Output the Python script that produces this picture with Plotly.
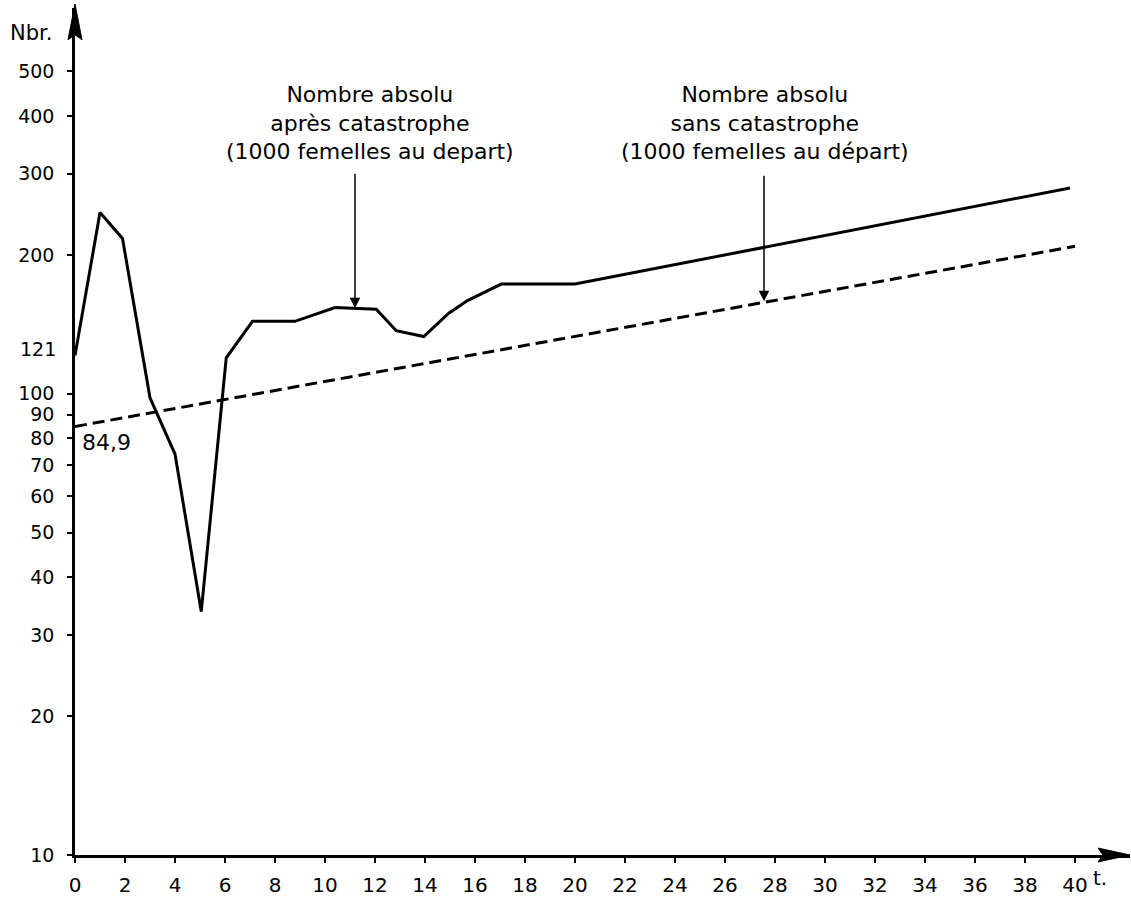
import math
import plotly.graph_objects as go

# ---- data ----
t_after = [0, 1, 1.9, 3, 4, 5.05, 6.05, 7.1, 8.8, 10.4, 12.05, 12.85, 13.95, 14.95, 15.7, 17.05, 20, 39.8]
n_after = [121, 247, 217, 98, 74, 33.7, 119.6, 143.5, 143.5, 153.8, 152.5, 137, 133, 149.5, 159.2, 172.9, 172.9, 279.3]

t_without = [0, 40]
n_without = [84.9, 208.7]

y_tickvals = [10, 20, 30, 40, 50, 60, 70, 80, 90, 100, 200, 300, 400, 500]
y_ticktext = ["10", "20", "30", "40", "50", "60", "70", "80", "90", "100", "200", "300", "400", "500"]
x_tickvals = list(range(0, 41, 2))
x_ticktext = [str(v) for v in x_tickvals]

label_after = "Nombre absolu<br>après catastrophe<br>(1000 femelles au depart)"
label_without = "Nombre absolu<br>sans catastrophe<br>(1000 femelles au départ)"

FONT = "DejaVu Sans"
INK = "black"

fig = go.Figure()
fig.add_trace(go.Scatter(x=t_without, y=n_without, mode="lines",
                         line=dict(color=INK, width=3, dash="12px,6px"),
                         showlegend=False))
fig.add_trace(go.Scatter(x=t_after, y=n_after, mode="lines",
                         line=dict(color=INK, width=3),
                         showlegend=False))

W, H = 1131, 898
L, R, T, B = 75, 1, 8, 38
pw = W - L - R
ph = H - T - B
x_max = pw / 25.0
y_top = 1 + ph / 464.0

fig.update_layout(
    width=W, height=H,
    margin=dict(l=L, r=R, t=T, b=B, pad=0),
    paper_bgcolor="white", plot_bgcolor="white",
    font=dict(family=FONT, color=INK),
    xaxis=dict(range=[0, x_max], showgrid=False, zeroline=False,
               showline=True, linecolor=INK, linewidth=2.5,
               ticks="outside", ticklen=5, tickwidth=2, tickcolor=INK,
               tickvals=x_tickvals, ticktext=x_ticktext,
               tickfont=dict(size=20, family=FONT, color=INK),
               ticklabelstandoff=5),
    yaxis=dict(type="log", range=[1, y_top], showgrid=False, zeroline=False,
               showline=True, linecolor=INK, linewidth=2.5,
               ticks="outside", ticklen=5, tickwidth=2, tickcolor=INK,
               tickvals=y_tickvals, ticktext=y_ticktext,
               tickfont=dict(size=19, family=FONT, color=INK),
               ticklabelstandoff=9),
)

def px_x(p):
    return (p - L) / pw

def px_y(p):
    return (H - B - p) / ph

# axis arrow heads (decoration)
fig.add_shape(type="path", xref="paper", yref="paper",
              path=f"M {px_x(75)},{px_y(4)} L {px_x(68)},{px_y(40)} L {px_x(75)},{px_y(35)} L {px_x(82)},{px_y(40)} Z",
              fillcolor=INK, line=dict(color=INK, width=1))
fig.add_shape(type="path", xref="paper", yref="paper",
              path=f"M {px_x(1130)},{px_y(860)} L {px_x(1098)},{px_y(853)} L {px_x(1103)},{px_y(860)} L {px_x(1098)},{px_y(867)} Z",
              fillcolor=INK, line=dict(color=INK, width=1))

ann = []
ann.append(dict(text="Nbr.", xref="paper", yref="paper", x=px_x(31), y=px_y(33),
                xanchor="center", yanchor="middle",
                showarrow=False, font=dict(size=21, family=FONT, color=INK)))
ann.append(dict(text="t.", xref="paper", yref="paper", x=px_x(1100), y=px_y(883),
                xanchor="center", yanchor="middle",
                showarrow=False, font=dict(size=20, family=FONT, color=INK)))
ann.append(dict(text="121", xref="paper", yref="y", x=px_x(58), y=math.log10(n_after[0]),
                xanchor="right", yanchor="middle", yshift=7, showarrow=False,
                font=dict(size=19, family=FONT, color=INK)))
ann.append(dict(text="84,9", xref="x", yref="y", x=0.2, y=math.log10(n_without[0]),
                xanchor="left", yanchor="top", yshift=-1, showarrow=False,
                font=dict(size=22, family=FONT, color=INK)))
ann.append(dict(text=label_after, xref="x", yref="paper", x=11.8, y=px_y(124),
                xanchor="center", yanchor="middle",
                showarrow=False, align="center",
                font=dict(size=22, family=FONT, color=INK)))
ann.append(dict(text=label_without, xref="x", yref="paper", x=27.6, y=px_y(124),
                xanchor="center", yanchor="middle",
                showarrow=False, align="center",
                font=dict(size=22, family=FONT, color=INK)))
# pointer arrows
ann.append(dict(text="", xref="x", yref="y", x=11.2, y=2.1853,
                ax=0, ay=-136, showarrow=True, arrowhead=2, arrowsize=1.4,
                arrowwidth=1.5, arrowcolor=INK))
ann.append(dict(text="", xref="x", yref="y", x=27.56, y=2.2004,
                ax=0, ay=-127, showarrow=True, arrowhead=2, arrowsize=1.4,
                arrowwidth=1.5, arrowcolor=INK))
fig.update_layout(annotations=ann)

fig.write_html("out.html", config={"displayModeBar": False},
               post_script="document.body.style.margin='0';document.body.style.padding='0';")
